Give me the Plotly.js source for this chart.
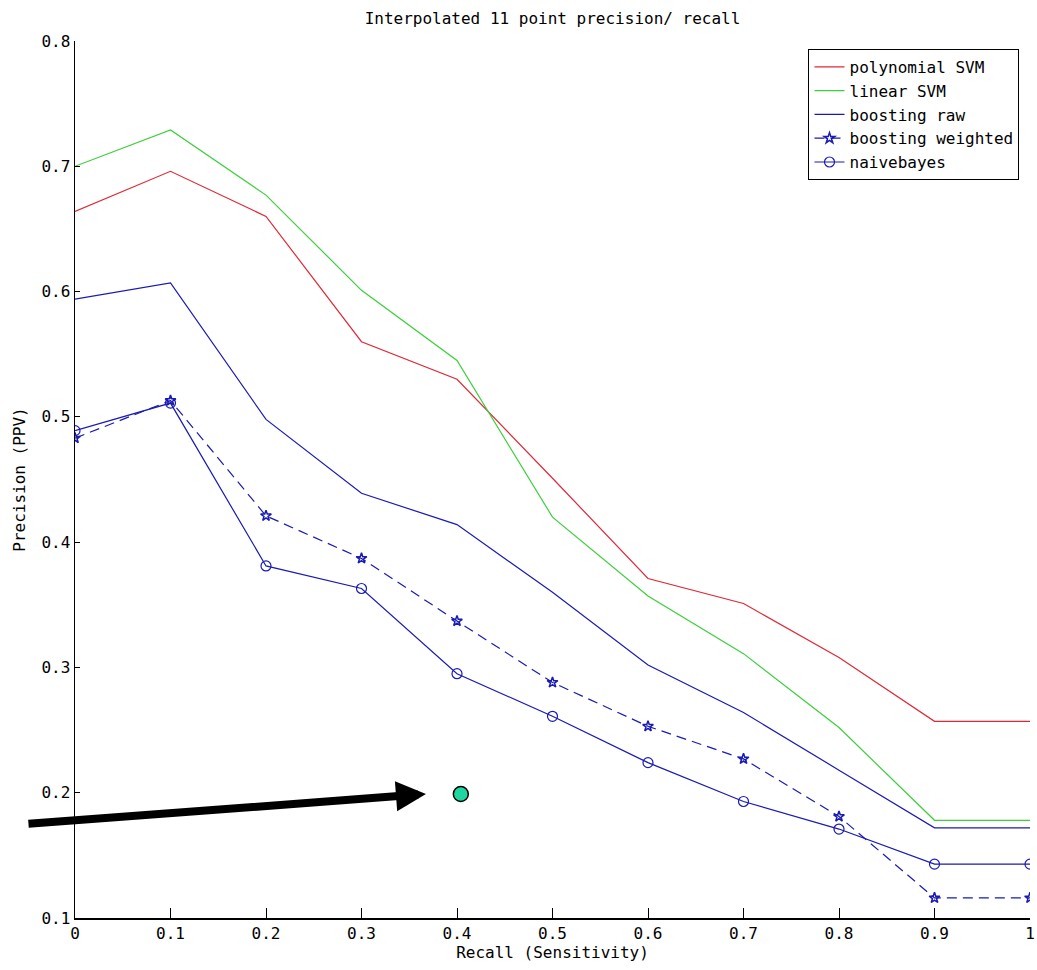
<!DOCTYPE html>
<html>
<head>
<meta charset="utf-8">
<script src="https://cdn.plot.ly/plotly-3.0.1.min.js"></script>
<style>html,body{margin:0;padding:0;background:#fff;}#chart{width:1037px;height:970px;}</style>
</head>
<body>
<div id="chart"></div>
<script>
var recall = [0, 0.1, 0.2, 0.3, 0.4, 0.5, 0.6, 0.7, 0.8, 0.9, 1.0];
var polynomialSVM = [0.664, 0.696, 0.660, 0.560, 0.530, 0.451, 0.371, 0.351, 0.308, 0.257, 0.257];
var linearSVM = [0.700, 0.729, 0.677, 0.601, 0.545, 0.420, 0.357, 0.311, 0.252, 0.178, 0.178];
var boostingRaw = [0.594, 0.607, 0.498, 0.439, 0.414, 0.360, 0.302, 0.264, 0.218, 0.172, 0.172];
var boostingWeighted = [0.483, 0.513, 0.421, 0.387, 0.337, 0.288, 0.253, 0.227, 0.181, 0.116, 0.116];
var naiveBayes = [0.489, 0.511, 0.381, 0.363, 0.295, 0.261, 0.224, 0.193, 0.171, 0.143, 0.143];
var seriesNames = ['polynomial SVM', 'linear SVM', 'boosting raw', 'boosting weighted', 'naivebayes'];
var xTicks = [0, 0.1, 0.2, 0.3, 0.4, 0.5, 0.6, 0.7, 0.8, 0.9, 1];
var xTickText = ['0', '0.1', '0.2', '0.3', '0.4', '0.5', '0.6', '0.7', '0.8', '0.9', '1'];
var yTicks = [0.1, 0.2, 0.3, 0.4, 0.5, 0.6, 0.7, 0.8];
var highlightPoint = {x: [0.404], y: [0.199]};
var arrowTip = {x: 0.3675, y: 0.199};

var RED = '#dd2a36', GREEN = '#3ccf3c', BLUE = '#1a1ab4';
var FONT = 'DejaVu Sans Mono, Liberation Mono, monospace';

var traces = [
  {x: recall, y: polynomialSVM, name: seriesNames[0], mode: 'lines', line: {color: RED, width: 1.2}},
  {x: recall, y: linearSVM, name: seriesNames[1], mode: 'lines', line: {color: GREEN, width: 1.2}},
  {x: recall, y: boostingRaw, name: seriesNames[2], mode: 'lines', line: {color: BLUE, width: 1.2}},
  {x: recall, y: boostingWeighted, name: seriesNames[3], mode: 'lines+markers',
   line: {color: BLUE, width: 1.2, dash: '10px,6px'},
   marker: {symbol: 'star-open', size: 8, color: BLUE, line: {color: BLUE, width: 1.5}}},
  {x: recall, y: naiveBayes, name: seriesNames[4], mode: 'lines+markers',
   line: {color: BLUE, width: 1.2},
   marker: {symbol: 'circle-open', size: 10, color: BLUE, line: {color: BLUE, width: 1.2}}},
  {x: highlightPoint.x, y: highlightPoint.y, mode: 'markers', showlegend: false, hoverinfo: 'skip',
   marker: {symbol: 'circle', size: 15, color: '#1fd6a0', line: {color: '#000', width: 1.5}}, cliponaxis: false}
];

var layout = {
  width: 1037, height: 970,
  margin: {l: 75, r: 7, t: 41, b: 52},
  paper_bgcolor: '#fff', plot_bgcolor: '#fff',
  font: {family: FONT, size: 16, color: '#000'},
  title: {text: 'Interpolated 11 point precision/ recall', font: {family: FONT, size: 16, color: '#000'},
          x: 0.5, xref: 'paper', y: 0.981, yref: 'container', xanchor: 'center', yanchor: 'middle'},
  xaxis: {range: [0, 1], tickvals: xTicks, ticktext: xTickText, ticks: 'inside', ticklen: 10, tickcolor: '#000',
          showline: true, linecolor: '#000', linewidth: 1.5, showgrid: false, zeroline: false,
          tickfont: {family: FONT, size: 16},
          title: {text: 'Recall (Sensitivity)', font: {family: FONT, size: 16}, standoff: 2}},
  yaxis: {range: [0.1, 0.8], tickvals: yTicks, ticks: 'inside', ticklen: 5, tickcolor: '#000',
          showline: true, linecolor: '#000', linewidth: 1.5, showgrid: false, zeroline: false,
          tickfont: {family: FONT, size: 16}, tickformat: '.1f',
          title: {text: 'Precision (PPV)', font: {family: FONT, size: 16}, standoff: 12}},
  legend: {x: 0.989, y: 0.991, xanchor: 'right', yanchor: 'top', bgcolor: '#fff',
           bordercolor: '#000', borderwidth: 1, font: {family: FONT, size: 16}, tracegroupgap: 0,
           itemwidth: 30},
  showlegend: true,
  annotations: [{
    x: arrowTip.x, y: arrowTip.y, xref: 'x', yref: 'y', ax: -399, ay: 30, axref: 'pixel', ayref: 'pixel',
    showarrow: true, arrowhead: 2, arrowsize: 0.75, arrowwidth: 8, arrowcolor: '#000', text: ''
  }]
};

Plotly.newPlot('chart', traces, layout, {displayModeBar: false, staticPlot: true});
</script>
</body>
</html>
